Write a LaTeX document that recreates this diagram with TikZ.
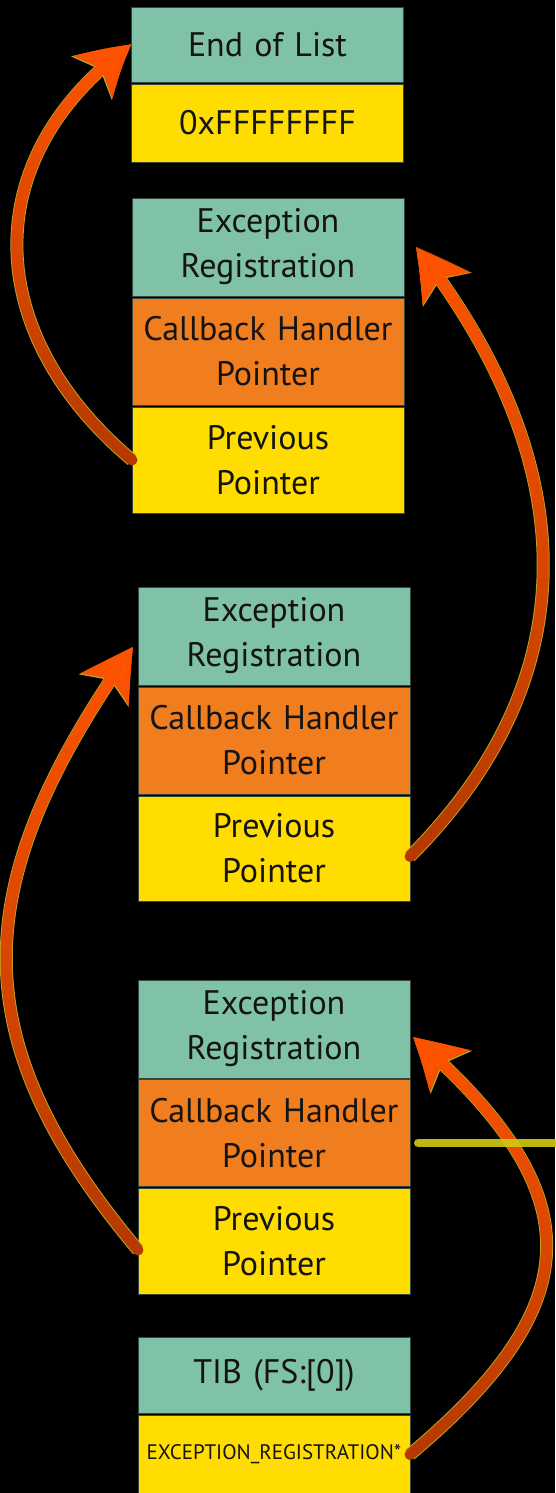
\documentclass[tikz,border=0pt]{standalone}
\usepackage{fontspec}
\setmainfont{PT Sans}
\usetikzlibrary{arrows.meta,bending,fadings}

\definecolor{reghdr}{RGB}{128,194,168}
\definecolor{regcb}{RGB}{240,125,30}
\definecolor{regptr}{RGB}{255,221,0}
\definecolor{boxrim}{RGB}{55,70,60}
\definecolor{chaindark}{RGB}{180,58,0}
\definecolor{chainbright}{RGB}{255,84,0}
\definecolor{chainrim}{RGB}{196,160,40}
\definecolor{hookyellow}{RGB}{212,202,20}

\tikzfading[name=fadeup, top color=transparent!0, middle color=transparent!15, bottom color=transparent!100]

\tikzset{
	field/.style={rectangle, draw=boxrim, line width=0.8pt, minimum width=272pt,
		text width=270pt, align=center, inner sep=0pt, outer sep=0pt,
		font=\fontsize{34}{45}\selectfont, text=black!92},
	hdrfield/.style={field, fill=reghdr, minimum height=98pt},
	cbfield/.style={field, fill=regcb, minimum height=107pt},
	ptrfield/.style={field, fill=regptr, minimum height=106pt},
	chain/.style={line width=11pt, line cap=round, draw=chaindark,
		-{Stealth[length=40pt 1, width=44pt 1, inset=12pt, bend]},
		preaction={draw=chainrim, line width=13pt},
		postaction={draw=chainbright, path fading=fadeup}},
	hook/.style={draw=hookyellow, line width=8pt, line cap=round, opacity=0.9},
}

\begin{document}
\begin{tikzpicture}[x=1pt, y=1pt]
	%% canvas
	\fill[black] (0, 0) rectangle (555, -1493);
	\useasboundingbox (0, 0) rectangle (555, -1493);

	%% end of list
	\node[hdrfield, minimum height=75pt] (endhdr) at (267.5, -44.5) {End of List};
	\node[ptrfield, minimum height=78pt] (endval) at (267.5, -123) {0xFFFFFFFF};

	%% first record
	\node[hdrfield] (reg1hdr) at (268, -247) {Exception\\Registration};
	\node[cbfield] (reg1cb) at (268, -351.5) {Callback Handler\\Pointer};
	\node[ptrfield] (reg1prev) at (268, -460) {Previous\\Pointer};

	%% second record
	\node[hdrfield] (reg2hdr) at (274, -636) {Exception\\Registration};
	\node[cbfield] (reg2cb) at (274, -740.5) {Callback Handler\\Pointer};
	\node[ptrfield, minimum height=105pt] (reg2prev) at (274, -848.5) {Previous\\Pointer};

	%% third record
	\node[hdrfield] (reg3hdr) at (274, -1029) {Exception\\Registration};
	\node[cbfield] (reg3cb) at (274, -1133) {Callback Handler\\Pointer};
	\node[ptrfield] (reg3prev) at (274, -1241) {Previous\\Pointer};

	%% thread information block
	\node[hdrfield, minimum height=76pt] (tibhdr) at (274, -1375) {TIB (FS:[0])};
	\node[ptrfield, minimum height=79pt, font=\fontsize{21}{25}\selectfont] (tibval) at (274, -1454.5) {EXCEPTION\_REGISTRATION*};

	%% chain pointers
	\draw[chain] (reg1prev.west) to[out=140, in=216, looseness=1.2] (endhdr.west);
	\draw[chain] ([yshift=-8pt]reg2prev.east) to[out=45, in=308, looseness=1.1] ([xshift=12pt]reg1hdr.east);
	\draw[chain] ([yshift=-9pt]reg3prev.west) to[out=130, in=235, looseness=1.2] ([shift={(-5pt,-11pt)}]reg2hdr.west);
	\draw[chain] (tibval.east) to[out=40, in=319, looseness=1.45] ([shift={(3pt,-8pt)}]reg3hdr.east);

	%% handler marker
	\coordinate (hookend) at (562, -1143);
	\draw[hook] ([shift={(8pt,-10pt)}]reg3cb.east) -- (hookend);
\end{tikzpicture}
\end{document}
